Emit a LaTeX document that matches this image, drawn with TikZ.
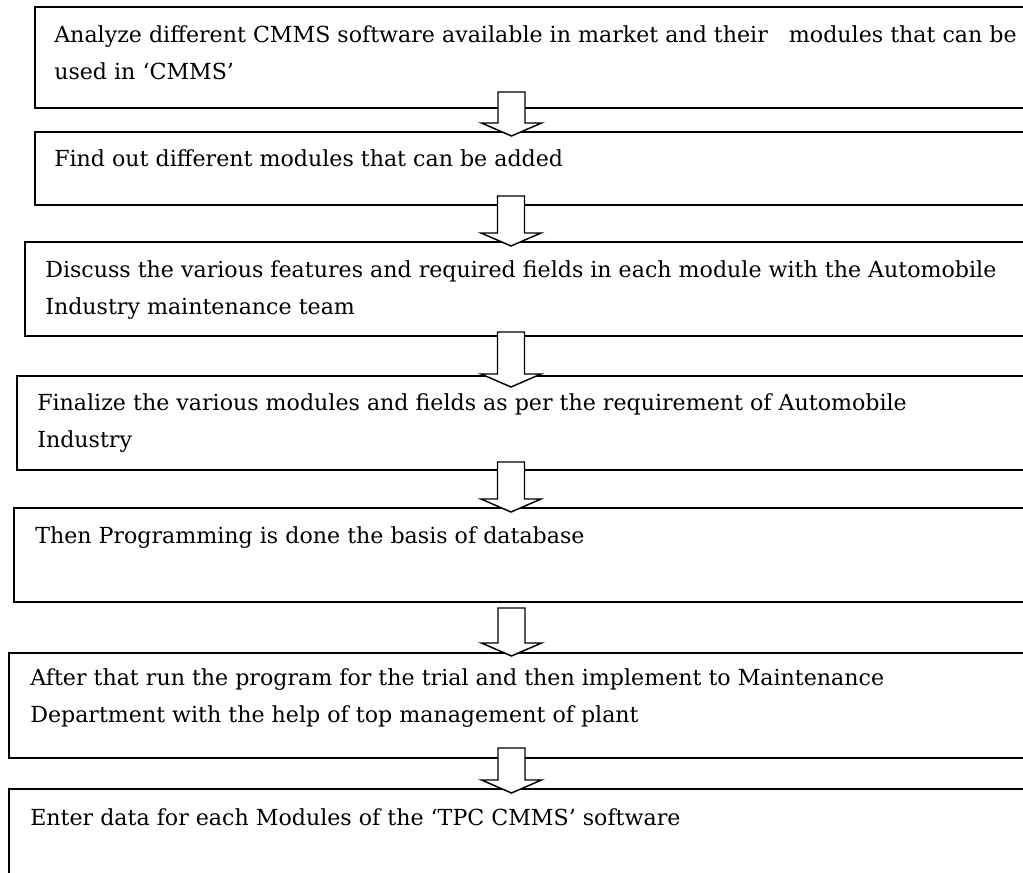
\documentclass[tikz,border=0pt]{standalone}
\usepackage{fontspec}
\setmainfont{DejaVu Serif}
\usetikzlibrary{calc,positioning}

\tikzset{
  stepbox/.style={draw, line width=1.2pt, rectangle, inner sep=0pt, anchor=north west},
  steptext/.style={anchor=base west, inner sep=0pt, align=left,
    font=\fontsize{16.6}{27.75}\selectfont},
  blockarrow/.style={draw, fill=white, line width=1.1pt, line join=miter}
}

% block arrow from shaft top #1 to tip #2
\newcommand{\blockarrow}[2]{%
  \draw[blockarrow] ($(#1)+(-13.5,0)$) -- ($(#2)+(-13.5,-13)$) -- ($(#2)+(-30,-13)$)
    -- (#2) -- ($(#2)+(30,-13)$) -- ($(#2)+(13.5,-13)$) -- ($(#1)+(13.5,0)$) -- cycle;}

\begin{document}
\begin{tikzpicture}[x=0.75pt,y=-0.75pt]
	\useasboundingbox (0,0) rectangle (1023,873);
	\clip (0,0) rectangle (1023,873);
	\fill[white] (0,0) rectangle (1023,873);

	% boxes
	\node[stepbox, minimum width=1000*0.75pt, minimum height=101*0.75pt] (b1) at (34,6) {};
	\node[stepbox, minimum width=1000*0.75pt, minimum height=73*0.75pt] (b2) at (34,131) {};
	\node[stepbox, minimum width=1010*0.75pt, minimum height=94*0.75pt] (b3) at (24,241) {};
	\node[stepbox, minimum width=1020*0.75pt, minimum height=94*0.75pt] (b4) at (16,375) {};
	\node[stepbox, minimum width=1020*0.75pt, minimum height=94*0.75pt] (b5) at (13,507) {};
	\node[stepbox, minimum width=1030*0.75pt, minimum height=105*0.75pt] (b6) at (8,652) {};
	\node[stepbox, minimum width=1030*0.75pt, minimum height=110*0.75pt] (b7) at (8,788) {};

	% texts (base = last line)
	\node[steptext] (t1) at ($(b1.north west)+(20,74)$)
	  {Analyze different CMMS software available in market and their\ \ \ modules that can be\\used in ‘CMMS’};
	\node[steptext] (t2) at ($(b2.north west)+(20,36)$) {Find out different modules that can be added};
	\node[steptext] (t3) at ($(b3.north west)+(21,74)$)
	  {Discuss the various features and required fields in each module with the Automobile\\Industry maintenance team};
	\node[steptext] (t4) at ($(b4.north west)+(21,72)$)
	  {Finalize the various modules and fields as per the requirement of Automobile\\Industry};
	\node[steptext] (t5) at ($(b5.north west)+(22,36)$) {Then Programming is done the basis of database};
	\node[steptext] (t6) at ($(b6.north west)+(22,70)$)
	  {After that run the program for the trial and then implement to Maintenance\\Department with the help of top management of plant};
	\node[steptext] (t7) at ($(b7.north west)+(22,37)$) {Enter data for each Modules of the ‘TPC CMMS’ software};

	% arrows
	\coordinate (s1) at (511.5,92);  \coordinate (e1) at (511.5,136);
	\coordinate (s2) at (511,196);   \coordinate (e2) at (511,246);
	\coordinate (s3) at (511,332);   \coordinate (e3) at (511,387);
	\coordinate (s4) at (511,462);   \coordinate (e4) at (511,512);
	\coordinate (s5) at (511.5,608); \coordinate (e5) at (511.5,656);
	\coordinate (s6) at (511.5,748); \coordinate (e6) at (511.5,793);
	\blockarrow{s1}{e1}
	\blockarrow{s2}{e2}
	\blockarrow{s3}{e3}
	\blockarrow{s4}{e4}
	\blockarrow{s5}{e5}
	\blockarrow{s6}{e6}
\end{tikzpicture}
\end{document}
